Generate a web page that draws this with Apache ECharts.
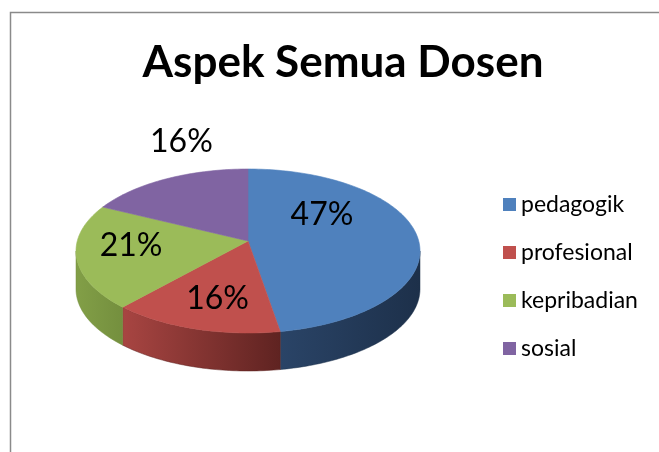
<!DOCTYPE html>
<html>
<head>
<meta charset="utf-8">
<script src="https://cdn.jsdelivr.net/npm/echarts@6/dist/echarts.min.js"></script>
<style>
  html, body { margin: 0; background: #fff; }
  #chart { width: 659px; height: 452px; }
</style>
</head>
<body>
<div id="chart"></div>
<script>
const aspects = ['pedagogik', 'profesional', 'kepribadian', 'sosial'];
const shares = [47, 16, 21, 16];

const topColors = ['#4f81bd', '#c0504d', '#9bbb59', '#8064a2'];
const sideColors = [
    ['#2a4467', '#1d304a'],
    ['#a84542', '#5f2321'],
    ['#829f47', '#748f3e'],
    ['#684f86', '#4d3b65']
];
// where Excel put each label, in ellipse units from the centre
const labelSpots = [[0.43, -0.44], [-0.177, 0.585], [-0.68, -0.06], [-0.387, -1.335]];

const cx = 248, cy = 251, rx = 172, ry = 82, depth = 38;
const apexLift = 10; // perspective: the slices meet a bit above the ellipse centre
const font = 'Lato, Carlito, sans-serif';

const total = shares.reduce((a, b) => a + b, 0);
const starts = [];
let acc = 0;
shares.forEach(v => { starts.push(acc / total * Math.PI * 2); acc += v });

const pt = (t, dy) => [cx + rx * Math.sin(t), cy - ry * Math.cos(t) + dy];

const arc = (a0, a1, dy) => {
    const pts = [];
    const n = Math.max(2, Math.ceil((a1 - a0) / 0.02));
    for (let k = 0; k <= n; k++) pts.push(pt(a0 + (a1 - a0) * k / n, dy));
    return pts;
};

function renderItem(params, api) {
    const i = params.dataIndex;
    const a0 = starts[i];
    const a1 = a0 + api.value(0) / total * Math.PI * 2;
    const children = [];

    children.push({
        type: 'polygon',
        shape: { points: [[cx, cy - apexLift]].concat(arc(a0, a1, 0)) },
        style: { fill: topColors[i], stroke: topColors[i], lineWidth: 0.6 },
        z2: 10
    });

    // front wall only for the part facing us
    const s = Math.max(a0, Math.PI / 2), e = Math.min(a1, Math.PI * 1.5);
    if (e > s) {
        const pts = arc(s, e, 0).concat(arc(s, e, depth).reverse());
        children.push({
            type: 'polygon',
            shape: { points: pts },
            style: {
                fill: new echarts.graphic.LinearGradient(0, 0, 1, 0, [
                    { offset: 0, color: sideColors[i][0] },
                    { offset: 1, color: sideColors[i][1] }
                ]),
                stroke: sideColors[i][1], lineWidth: 0.5
            },
            z2: 1
        });
    }

    const spot = labelSpots[i];
    children.push({
        type: 'text',
        x: cx + spot[0] * rx,
        y: cy + spot[1] * ry,
        style: {
            text: Math.round(api.value(0) / total * 100) + '%',
            fontFamily: font, fontSize: 32, fill: '#000',
            align: 'center', verticalAlign: 'middle'
        },
        z2: 20
    });

    return { type: 'group', children };
}

const chart = echarts.init(document.getElementById('chart'));
chart.setOption({
    animation: false,
    title: {
        text: 'Aspek Semua Dosen',
        left: 338, top: 36, textAlign: 'center',
        textStyle: { fontFamily: font, fontWeight: 'bold', fontSize: 44, color: '#000' }
    },
    legend: {
        orient: 'vertical',
        left: 498, top: 188,
        itemWidth: 13, itemHeight: 13, itemGap: 25,
        icon: 'rect',
        data: aspects,
        textStyle: { fontFamily: font, fontSize: 23, color: '#000' }
    },
    graphic: [{
        type: 'rect',
        shape: { x: 10.5, y: 12.5, width: 700, height: 500 },
        style: { fill: 'none', stroke: '#8a8a8a', lineWidth: 1.5 },
        silent: true
    }],
    series: [
        {
            type: 'custom',
            coordinateSystem: 'none',
            data: shares,
            renderItem: renderItem,
            silent: true
        },
        {
            // invisible, only feeds the legend
            type: 'pie',
            radius: 0,
            center: [-50, -50],
            silent: true,
            label: { show: false },
            labelLine: { show: false },
            data: aspects.map((n, i) => ({ name: n, value: shares[i], itemStyle: { color: topColors[i] } }))
        }
    ]
});
</script>
</body>
</html>
